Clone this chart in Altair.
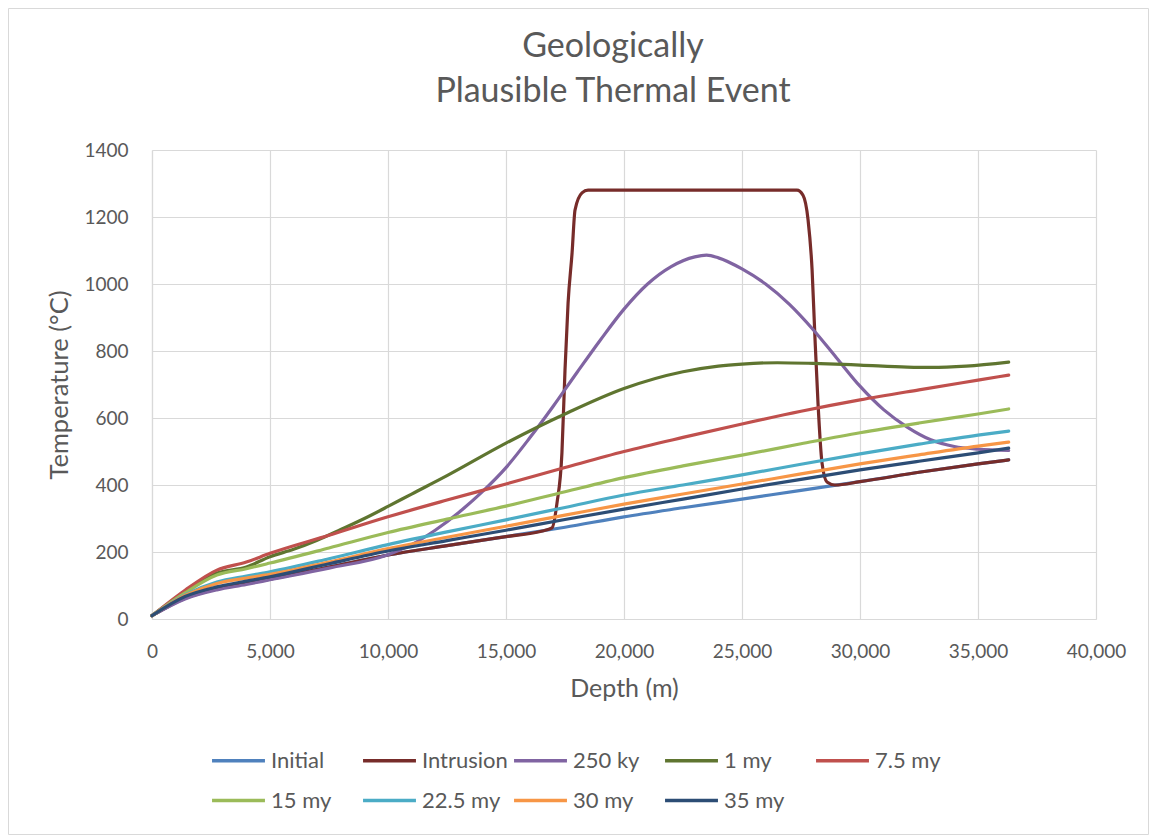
import altair as alt
import pandas as pd

# ---------------- data ----------------
SERIES = ["Initial", "Intrusion", "250 ky", "1 my", "7.5 my", "15 my", "22.5 my", "30 my", "35 my"]
COLORS = ["#4F81BD", "#772C2A", "#8064A2", "#5F7530", "#C0504D", "#9BBB59", "#4BACC6", "#F79646", "#2C4D75"]

DEPTH = [0, 1400, 2750, 4000, 5000, 7500, 10000, 12500, 15000, 17500, 20000,
         22500, 25000, 27500, 30000, 32500, 35000, 36300]

T_INITIAL = [10, 62, 90, 106, 119, 155, 191, 219, 246, 274, 305, 332, 358, 384, 410, 438, 463, 475]
T_7_5MY = [10, 86, 146, 170, 196, 250, 305, 355, 403, 452, 500, 542, 582, 620, 654, 684, 713, 728]
T_15MY = [10, 78, 131, 150, 167, 212, 258, 298, 337, 380, 422, 457, 489, 523, 556, 585, 612, 627]
T_22_5MY = [10, 72, 110, 128, 141, 180, 222, 260, 296, 333, 370, 400, 430, 462, 493, 522, 549, 561]
T_30MY = [10, 70, 106, 122, 133, 170, 210, 244, 277, 310, 343, 373, 403, 433, 463, 490, 516, 528]
T_35MY = [10, 67, 96, 113, 126, 165, 203, 234, 265, 297, 328, 358, 388, 417, 445, 471, 496, 510]

DEPTH_1MY = [0, 1400, 2750, 4000, 5000, 6000, 7000, 8000, 9000, 10000, 11000, 12500, 15000,
             17500, 20000, 22500, 24000, 25000, 26500, 28000, 30000, 32000, 33000, 34500, 36300]
T_1MY = [10, 80, 137, 155, 186, 208, 235, 267, 300, 336, 373, 428, 525, 612, 688, 738, 755,
         761, 765, 763, 758, 752, 751, 755, 767]

DEPTH_250KY = [0, 1400, 2750, 4000, 5000, 7500, 10000, 11000, 12000, 13000, 14000, 15000,
               16000, 17000, 18000, 19000, 20000, 21000, 22000, 23000, 23500, 24000,
               25000, 26000, 27000, 28000, 29000, 30000, 31000, 32000, 33000, 34000, 35000, 36300]
T_250KY = [10, 60, 87, 103, 117, 152, 192, 222, 265, 318, 380, 452, 540, 635, 735, 833, 925,
           1000, 1052, 1081, 1086, 1078, 1045, 1000, 940, 865, 780, 695, 625, 573, 535, 515, 507, 503]

DEPTH_INTRUSION = [0, 1400, 2750, 4000, 5000, 7500, 10000, 12500, 15000, 16500, 16950, 17160,
                   17370, 17500, 17630, 17800, 17925, 18220, 18475, 20000, 22500, 25000, 27330,
                   27585, 27800, 27970, 28090, 28220, 28390, 28600, 28940, 30000, 32500, 35000, 36300]
T_INTRUSION = [10, 62, 90, 106, 119, 155, 191, 219, 246, 262, 272, 346, 496, 743, 943, 1093,
               1221, 1272, 1280, 1280, 1280, 1280, 1280, 1265, 1191, 1042, 842, 645, 466, 409,
               400, 410, 438, 463, 475]

X_TICKS = [0, 5000, 10000, 15000, 20000, 25000, 30000, 35000, 40000]
Y_TICKS = [0, 200, 400, 600, 800, 1000, 1200, 1400]

# ---------------- build the long table ----------------
series_data = [
    ("Initial", DEPTH, T_INITIAL),
    ("Intrusion", DEPTH_INTRUSION, T_INTRUSION),
    ("250 ky", DEPTH_250KY, T_250KY),
    ("1 my", DEPTH_1MY, T_1MY),
    ("7.5 my", DEPTH, T_7_5MY),
    ("15 my", DEPTH, T_15MY),
    ("22.5 my", DEPTH, T_22_5MY),
    ("30 my", DEPTH, T_30MY),
    ("35 my", DEPTH, T_35MY),
]
rows = []
for name, depths, temps in series_data:
    for d, t in zip(depths, temps):
        rows.append({"series": name, "depth": d, "temp": t})
df = pd.DataFrame(rows)

FONT = "Lato"
TXT = "#595959"
GRID = "#D9D9D9"

lines = alt.Chart(df).mark_line(strokeWidth=3.2, interpolate="monotone", strokeCap="round").encode(
    x=alt.X("depth:Q", title="Depth (m)",
            scale=alt.Scale(domain=[0, 40000], nice=False),
            axis=alt.Axis(values=X_TICKS, format=",d", labelFontSize=19, titleFontSize=25,
                          labelPadding=23, titlePadding=15, ticks=False, labelFlush=False)),
    y=alt.Y("temp:Q", title="Temperature (°C)",
            scale=alt.Scale(domain=[0, 1400], nice=False),
            axis=alt.Axis(values=Y_TICKS, format="d", labelFontSize=19, titleFontSize=25.5,
                          labelPadding=24, titlePadding=11, ticks=False)),
    color=alt.Color("series:N", scale=alt.Scale(domain=SERIES, range=COLORS),
                    legend=alt.Legend(title=None, orient="none", direction="horizontal",
                                      columns=5, legendX=58, legendY=582,
                                      symbolType="stroke", symbolSize=2800, symbolStrokeWidth=3.5,
                                      labelFontSize=22, labelFont=FONT, labelColor=TXT,
                                      gridAlign="all", columnPadding=-1, rowPadding=-5,
                                      labelOffset=4)),
)

frame = alt.Chart(alt.Data(values=[{}])).mark_rect(fill=None, stroke=GRID, strokeWidth=1, clip=False).encode(
    x=alt.value(-143.5), x2=alt.value(996.5), y=alt.value(-141.5), y2=alt.value(684.5)
)

chart = alt.layer(frame, lines).properties(
    width=944, height=469,
    padding={"left": 144, "top": 142, "right": 53, "bottom": 216},
    autosize=alt.AutoSizeParams(type="none"),
    title=alt.TitleParams(text=["Geologically", "Plausible Thermal Event"], fontSize=34,
                          font=FONT, fontWeight="normal", color=TXT, anchor="middle",
                          frame="group", dx=-11, dy=135, offset=0, lineHeight=45,
                          baseline="bottom"),
).configure_view(stroke=None).configure_axis(
    gridColor=GRID, domainColor=GRID, labelColor=TXT, titleColor=TXT,
    labelFont=FONT, titleFont=FONT, titleFontWeight="normal", gridWidth=1.2, domainWidth=1.2
)

chart.save("out.html", embed_options={"renderer": "svg", "actions": False})
